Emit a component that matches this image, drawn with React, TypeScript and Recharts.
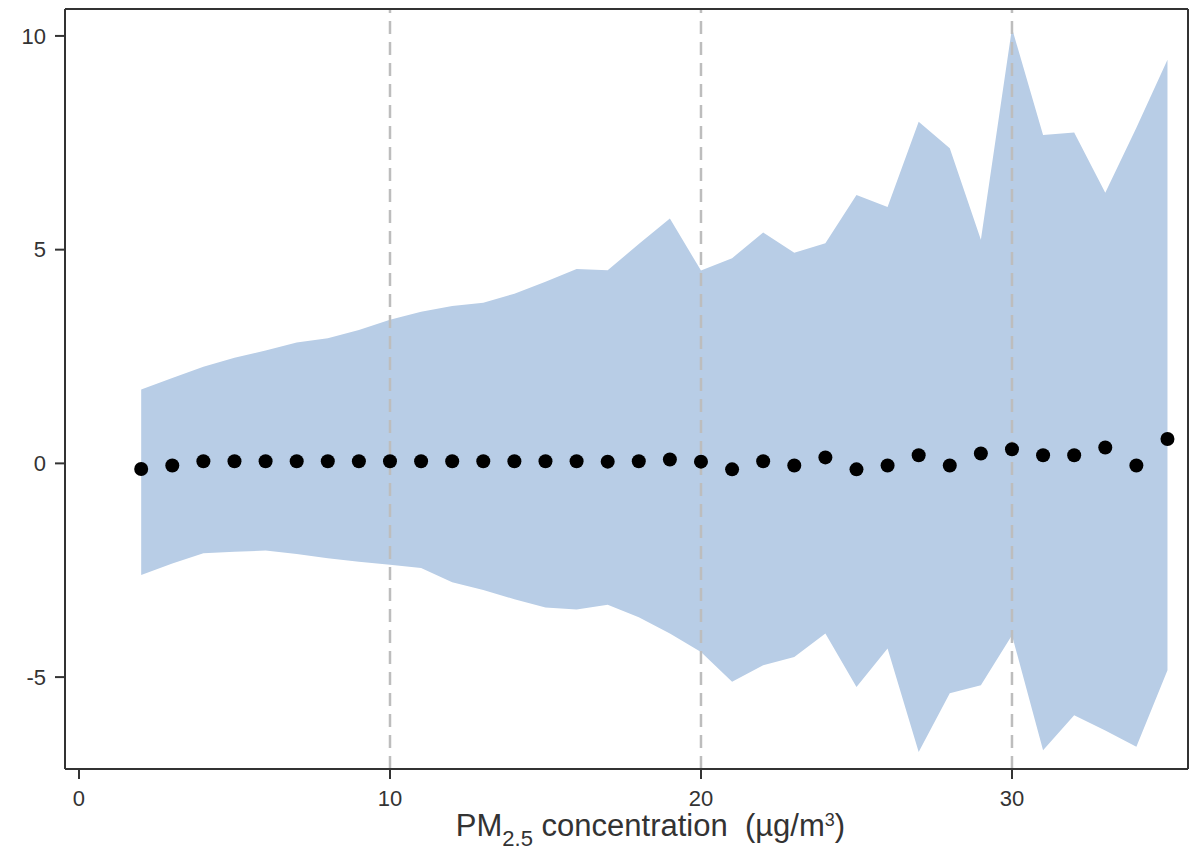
import {
  ComposedChart,
  Area,
  Line,
  XAxis,
  YAxis,
  ReferenceLine,
} from "recharts";

const concentrations = [
  2, 3, 4, 5, 6, 7, 8, 9, 10, 11, 12, 13, 14, 15, 16, 17, 18, 19, 20, 21, 22,
  23, 24, 25, 26, 27, 28, 29, 30, 31, 32, 33, 34, 35,
];
const effect = [
  -0.13, -0.05, 0.05, 0.05, 0.05, 0.05, 0.05, 0.05, 0.05, 0.05, 0.05, 0.05,
  0.05, 0.05, 0.05, 0.04, 0.05, 0.09, 0.04, -0.14, 0.05, -0.05, 0.14, -0.14,
  -0.05, 0.19, -0.05, 0.23, 0.33, 0.19, 0.19, 0.37, -0.05, 0.57,
];
const upper = [
  1.73, 2.0, 2.26, 2.47, 2.64, 2.83, 2.93, 3.12, 3.36, 3.55, 3.68, 3.76, 3.97,
  4.25, 4.55, 4.52, 5.13, 5.73, 4.51, 4.8, 5.4, 4.93, 5.15, 6.28, 6.0, 7.99,
  7.37, 5.23, 10.18, 7.68, 7.74, 6.33, 7.85, 9.44,
];
const lower = [
  -2.61, -2.34, -2.1, -2.07, -2.04, -2.12, -2.22, -2.3, -2.37, -2.45, -2.78,
  -2.96, -3.18, -3.37, -3.42, -3.31, -3.6, -3.98, -4.41, -5.11, -4.72, -4.53,
  -3.98, -5.23, -4.33, -6.75, -5.38, -5.19, -4.02, -6.71, -5.89, -6.25, -6.63,
  -4.84,
];
const xTicks = [0, 10, 20, 30];
const yTicks = [-5, 0, 5, 10];
const dashedAt = [10, 20, 30];

const data = concentrations.map((x, i) => ({
  x,
  effect: effect[i],
  band: [lower[i], upper[i]],
}));

const xDomain = [-0.45, 35.66];
const yDomain = [-7.15, 10.63];
const axisColor = "#333";
const font = "'Liberation Sans', Arial, sans-serif";

const AxisTitle = (props: any) => {
  const { viewBox } = props;
  const cx = viewBox.x + viewBox.width / 2 + 24;
  const y = viewBox.y + 67;
  return (
    <text
      x={cx}
      y={y}
      textAnchor="middle"
      fill="#333"
      fontSize={31}
      fontFamily={font}
    >
      <tspan>PM</tspan>
      <tspan fontSize={22} dy={10}>
        2.5
      </tspan>
      <tspan dy={-10}>{" concentration\u00a0 (µg/m"}</tspan>
      <tspan fontSize={18} dy={-10}>
        3
      </tspan>
      <tspan dy={10}>)</tspan>
    </text>
  );
};

export default function App() {
  const tickStyle = { fill: "#333", fontSize: 22, fontFamily: font };
  return (
    <div style={{ position: "absolute", left: 0, top: 0, background: "#fff" }}>
      <ComposedChart
        width={1203}
        height={861}
        data={data}
        margin={{ top: 9, right: 15, bottom: 32, left: 0 }}
      >
        <XAxis
          dataKey="x"
          type="number"
          domain={xDomain}
          ticks={xTicks}
          allowDataOverflow
          height={60}
          fontSize={22}
          fontFamily={font}
          tick={tickStyle}
          tickSize={10}
          tickMargin={11}
          stroke={axisColor}
          strokeWidth={2}
          tickLine={{ stroke: axisColor, strokeWidth: 2 }}
          label={{ content: AxisTitle }}
        />
        <YAxis
          type="number"
          domain={yDomain}
          ticks={yTicks}
          allowDataOverflow
          width={65}
          fontSize={22}
          fontFamily={font}
          tick={tickStyle}
          tickSize={10}
          tickMargin={9}
          stroke={axisColor}
          strokeWidth={2}
          tickLine={{ stroke: axisColor, strokeWidth: 2 }}
        />
        <Area
          dataKey="band"
          type="linear"
          fill="#b8cde6"
          fillOpacity={1}
          stroke="none"
          isAnimationActive={false}
        />
        {dashedAt.map((v) => (
          <ReferenceLine
            key={v}
            x={v}
            stroke="#bdbdbd"
            strokeWidth={2.5}
            strokeDasharray="13 8"
          />
        ))}
        {/* top and right edges of the frame */}
        <ReferenceLine y={yDomain[1]} stroke={axisColor} strokeWidth={2} />
        <ReferenceLine x={xDomain[1]} stroke={axisColor} strokeWidth={2} />
        <Line
          dataKey="effect"
          type="linear"
          stroke="none"
          dot={{ r: 7, fill: "#000", stroke: "none" }}
          activeDot={false}
          isAnimationActive={false}
        />
      </ComposedChart>
    </div>
  );
}
